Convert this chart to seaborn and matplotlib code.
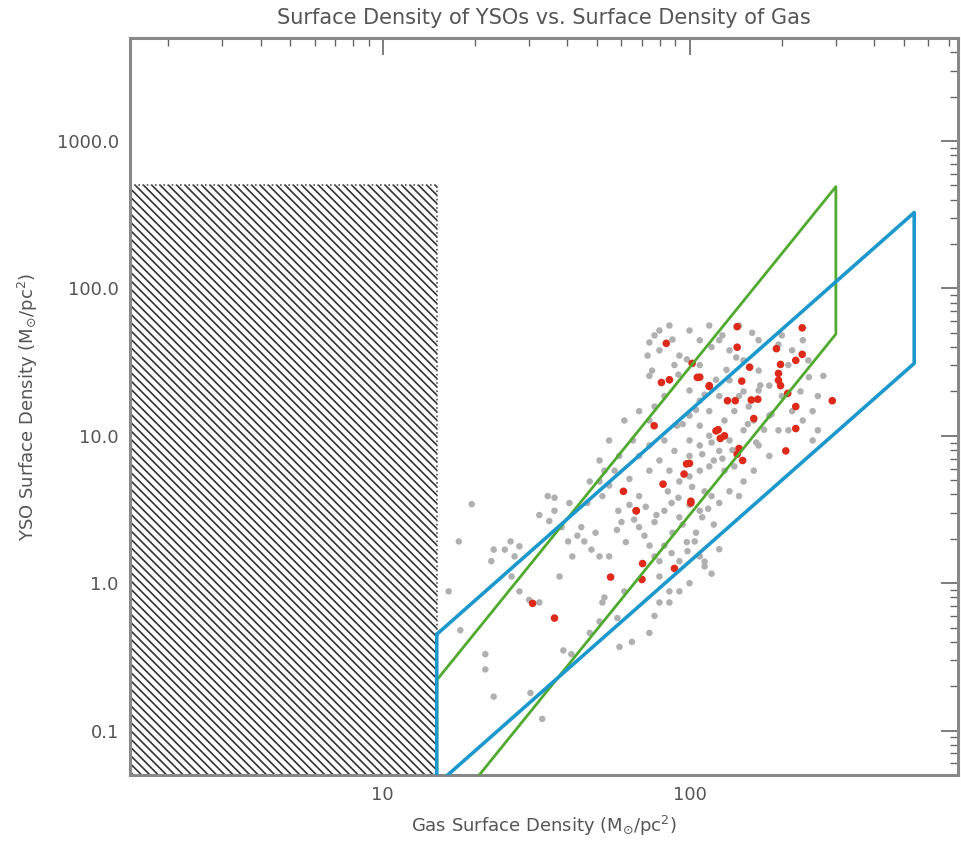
import numpy as np
import pandas as pd
import matplotlib
matplotlib.use('Agg')
import matplotlib.pyplot as plt
from matplotlib.patches import Rectangle
import seaborn as sns

# ---- data ----
# gas surface density (Msun/pc^2) and YSO surface density for the grey points
gray_gas = [17.7, 19.5, 16.4, 17.9, 21.6, 22.6, 23, 21.6, 23, 25, 26.1, 27.9, 26.9, 26.3, 27.9, 30, 32.4,
            33.1, 30.3, 37.7, 34.9, 34.5, 36.3, 36.3, 32.4, 40.6, 43.1, 45.4, 47.9, 41.5, 40.2, 38.3, 44.4,
            49.4, 50.9, 54.7, 52.8, 61.3, 58.2, 64.9, 74, 59.1, 41.2, 38.8, 50.9, 47.3, 52, 46.4, 52, 54.7,
            50.9, 57, 63.7, 58.6, 63.7, 60, 68.5, 71.3, 74.1, 76.9, 79.8, 82.8, 87.4, 92.7, 98.5, 104, 108,
            112, 118, 125, 79.8, 86, 76.9, 82.8, 87.4, 92.7, 100, 108, 118, 125, 135, 145, 150, 162, 182,
            195, 210, 168, 140, 130, 120, 108, 100, 92.7, 86, 79.8, 74, 68.5, 74, 82.8, 89.3, 100, 108, 116,
            125, 135, 150, 162, 182, 74, 76.9, 82.8, 86, 89.3, 92.7, 79.8, 74, 73, 75.5, 100, 108, 116, 125,
            135, 150, 168, 182, 200, 216, 234, 252, 262, 100, 108, 116, 125, 135, 145, 156, 168, 100, 91,
            108, 116, 130, 140, 100, 112, 68.5, 59, 65.4, 52.8, 47.3, 79.8, 86, 100, 92.7, 76.9, 112, 74,
            68.5, 61.3, 54.7, 50.9, 216, 234, 244, 195, 210, 262, 273, 252, 145, 168, 79.8, 76.9, 86, 108,
            95, 105, 110, 98, 88, 115, 120, 102, 92, 85, 78, 72, 66, 62, 58, 110, 118, 128, 138, 95,
            105, 112, 122, 132, 142, 92, 98, 88, 118, 128, 155, 165, 175, 185, 170, 150, 230, 245, 200, 160]
gray_yso = [1.92, 3.44, 0.88, 0.48, 0.33, 1.41, 1.69, 0.26, 0.17, 1.69, 1.92, 1.78, 1.52, 1.11, 0.88, 0.77,
            0.74, 0.12, 0.18, 1.11, 2.64, 3.9, 3.8, 3.1, 2.9, 3.5, 2.1, 1.92, 1.69, 1.52, 1.92, 2.4, 2.4,
            2.2, 1.52, 1.52, 0.8, 0.88, 0.58, 0.4, 0.46, 0.37, 0.33, 0.35, 0.55, 0.46, 0.74, 3.5, 3.9, 4.6,
            4.9, 5.8, 5.1, 3.1, 3.4, 2.6, 2.4, 2.1, 1.8, 1.52, 1.41, 1.8, 1.6, 1.41, 1.65, 1.92, 1.52,
            1.3, 1.16, 1.7, 1.11, 0.88, 2.6, 3.1, 3.5, 2.8, 3.4, 3.1, 3.9, 3.5, 4.2, 3.9, 4.9, 5.8, 7.3,
            10.9, 10.9, 8.6, 6.2, 5.8, 6.8, 5.8, 5.3, 4.9, 5.8, 6.8, 5.8, 7.3, 8.6, 9.3, 7.9, 9.3, 8.6, 10,
            7.9, 9.3, 10.9, 12.7, 13.7, 12.7, 15.8, 18.6, 23.8, 30.2, 35, 38, 43, 35, 27.7, 51.8, 44.5, 56, 44.5,
            38, 32.5, 27.7, 21.9, 18.6, 14.7, 12.7, 9.3, 10.9, 20.3, 17.3, 14.7, 18.6, 23.8, 18.6, 15.8, 20.3, 13.7, 11.7,
            11.7, 6.2, 12.7, 14.7, 7.3, 4.2, 3.9, 7.3, 9.3, 5.8, 4.9, 0.74, 0.74, 1.0, 0.88, 0.6, 1.4, 25.5,
            14.7, 12.7, 9.3, 6.8, 38, 44.5, 32.5, 41.6, 30.2, 18.6, 25.5, 14.7, 56, 44.5, 51.8, 48, 56, 30.2,
            2.5, 2.2, 2.8, 1.9, 2.2, 3.2, 2.5, 4.5, 3.8, 4.2, 2.9, 3.3, 2.7, 1.9, 2.3, 7.5, 9, 7, 8, 12,
            15, 19, 24, 28, 34, 26, 33, 45, 40, 48, 12, 9, 11, 14, 22, 20, 20, 25, 48, 50]

red_gas = [30.8, 36.3, 55.3, 67.1, 70.3, 70, 89.3, 101, 84, 81, 86, 102, 106, 116, 122, 76.7, 97.8, 96,
           100, 82, 60.9, 67, 101, 143, 233, 143, 192, 233, 222, 198, 157, 195, 195, 148, 116, 198, 108,
           133, 141, 159, 167, 222, 292, 209, 124, 130, 126, 222, 162, 206, 145, 149, 143]
red_yso = [0.73, 0.58, 1.10, 3.1, 1.36, 1.06, 1.26, 3.5, 42.4, 23, 24, 31, 24.9, 21.6, 10.8, 11.7, 6.45, 5.5,
           6.5, 4.7, 4.2, 3.1, 3.6, 55, 54, 39.9, 39, 35.7, 32.5, 30.5, 29.2, 26.5, 23.8, 23.5, 21.9, 21.9, 25,
           17.3, 17.3, 17.5, 17.7, 15.8, 17.3, 19.4, 11, 10, 9.6, 11.2, 13.1, 7.9, 8.2, 6.8, 7.5]

# shaded (incomplete) region and the two relations
cut_gas = [1.5, 15.0]
cut_yso_top = 500.0
blue_gas = [15, 540, 540, 15, 15]
blue_yso = [0.45, 327, 31, 0.043, 0.45]
green_gas = [15, 300, 300, 15, 15]
green_yso = [0.22, 490, 49, 0.022, 0.22]

x_ticks = [10, 100]
y_ticks = [0.1, 1.0, 10.0, 100.0, 1000.0]
y_ticklabels = ['0.1', '1.0', '10.0', '100.0', '1000.0']

txt = '#555555'

sns.set_style('white')
plt.rcParams['font.family'] = ['DejaVu Sans']
plt.rcParams['hatch.linewidth'] = 1.2
plt.rcParams['hatch.color'] = '#333333'

fig = plt.figure(figsize=(9.62, 8.42), dpi=100)
ax = fig.add_axes([0.1351, 0.0796, 0.8607, 0.8753])

gray_df = pd.DataFrame({'gas': gray_gas, 'yso': gray_yso})
red_df = pd.DataFrame({'gas': red_gas, 'yso': red_yso})

# hatched region
ax.add_patch(Rectangle((cut_gas[0], 0.01), cut_gas[1] - cut_gas[0], cut_yso_top - 0.01,
                       fill=False, hatch='\\\\\\\\', edgecolor='#333333', linewidth=0, zorder=1))
ax.plot([cut_gas[0], cut_gas[1], cut_gas[1]], [cut_yso_top, cut_yso_top, 0.01],
        color='#555555', lw=1.2, ls=(0, (1, 1.5)), zorder=2)

sns.scatterplot(data=gray_df, x='gas', y='yso', ax=ax, color='#b0b0b0', s=22,
                edgecolor='none', zorder=3, legend=False)
sns.scatterplot(data=red_df, x='gas', y='yso', ax=ax, color='#dd2a1a', s=30,
                edgecolor='none', zorder=4, legend=False)

sns.lineplot(x=green_gas, y=green_yso, ax=ax, sort=False, estimator=None, color='#4faa2e',
             lw=2.0, zorder=5)
sns.lineplot(x=blue_gas, y=blue_yso, ax=ax, sort=False, estimator=None, color='#1d98cc',
             lw=2.6, zorder=6)

ax.set_xscale('log')
ax.set_yscale('log')
ax.set_xlim(1.5, 750)
ax.set_ylim(0.05, 5000)

ax.set_xticks(x_ticks)
ax.set_xticklabels([str(t) for t in x_ticks])
ax.set_yticks(y_ticks)
ax.set_yticklabels(y_ticklabels)
ax.tick_params(which='major', direction='in', length=12, width=1.2, color='#666666',
               top=True, right=True, labelsize=13, labelcolor=txt, pad=8)
ax.tick_params(which='minor', direction='in', length=6, width=1.0, color='#666666',
               top=True, right=True)
for sp in ax.spines.values():
    sp.set_color('#888888')
    sp.set_linewidth(2.2)

ax.set_xlabel(r'Gas Surface Density (M$_{\odot}$/pc$^2$)', fontsize=13, color=txt, labelpad=7)
ax.set_ylabel(r'YSO Surface Density (M$_{\odot}$/pc$^2$)', fontsize=13, color=txt, labelpad=12)
ax.set_title('Surface Density of YSOs vs. Surface Density of Gas', fontsize=15, color=txt, pad=10)

fig.savefig('out.png', dpi=100)
